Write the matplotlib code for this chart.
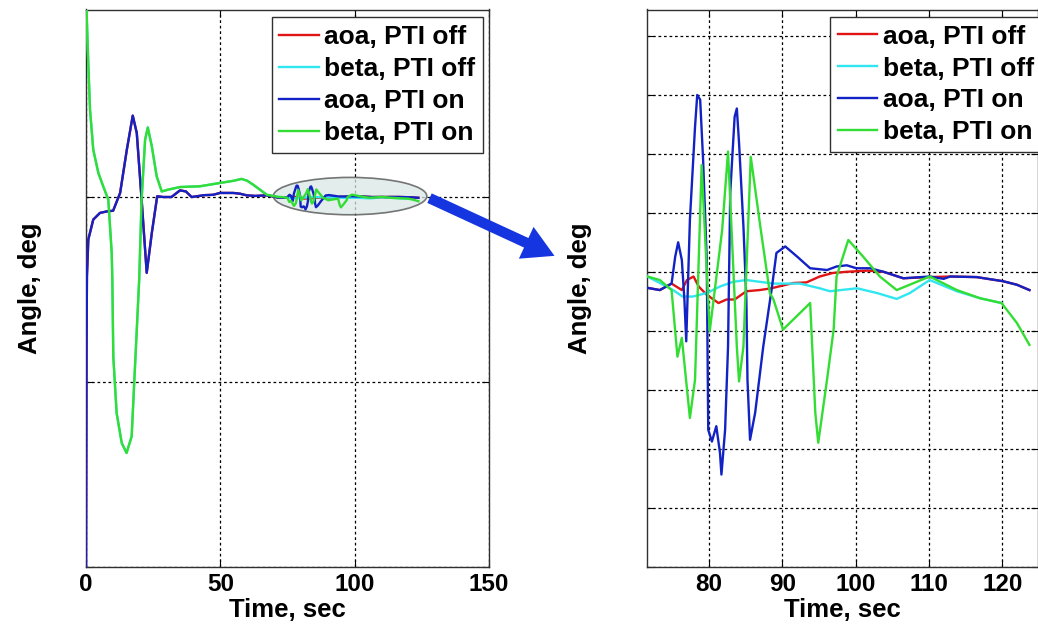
import matplotlib
matplotlib.use("Agg")
import matplotlib.pyplot as plt
from matplotlib.patches import Ellipse, FancyArrowPatch, ArrowStyle
import numpy as np

plt.rcParams['font.family'] = ['Liberation Sans', 'DejaVu Sans']
plt.rcParams['font.weight'] = 'bold'

# ---------------- data ----------------
# Before the PTI manoeuvre (t < 72 s) PTI off and PTI on traces coincide.
t_pre_aoa = [0.0, 0.2, 0.35, 0.86, 2.7, 5.2, 7.7, 10.1, 12.7, 15.2, 17.4, 18.9, 20.7, 22.6,
             24.5, 26.5, 28.7, 31.8, 35.0, 37.2, 39.3, 44.0, 47.3, 49.9, 54.8, 57.3, 59.8,
             63.0, 67.3, 70.0]
aoa_pre = [-100, -40, -21.5, -11.6, -6.2, -4.4, -4.0, -3.8, 1.0, 12.7, 21.9, 17.2, -0.8, -20.6,
           -9.8, 0.1, -0.1, -0.1, 1.7, 1.4, -0.1, 0.4, 0.5, 1.0, 1.0, 0.8, 0.35,
           0.2, 0.35, 0.0]

t_pre_beta = [0.0, 0.86, 1.5, 2.7, 4.6, 6.4, 8.3, 9.57, 9.8, 10.16, 11.4, 13.3, 15.1, 17.0,
              18.0, 18.9, 19.8, 20.7, 22.0, 23.0, 24.5, 26.3, 28.2, 30.6, 35.0, 42.4, 49.9,
              55.0, 57.9, 60.0, 62.3, 67.3, 70.3]
beta_pre = [55, 35.8, 23.5, 12.7, 6.4, 2.8, -0.8, -15.2, -22.4, -43.2, -58.5, -66.6, -69.3, -64.8,
            -49.5, -36.0, -22.4, -0.8, 15.4, 18.7, 13.6, 5.5, 1.4, 1.9, 2.6, 2.8, 3.7,
            4.3, 4.8, 4.3, 3.2, 0.5, 0.1]

# After 72 s
t_aoa_on = [71.5, 73.3, 74.9, 75.4, 75.8, 76.3, 76.65, 76.9, 77.4, 78.1, 78.4, 78.8, 79.2, 79.7,
            79.9, 80.4, 81.0, 81.5, 81.7, 82.2, 82.6, 82.9, 83.5, 83.8, 84.1, 84.7, 85.1, 85.25,
            85.6, 86.3, 87.4, 88.6, 89.2, 90.4, 92.0, 93.8, 96.1, 97.4, 98.8, 100.1, 102.0,
            103.8, 106.5, 110.1, 112.0, 112.9, 116.5, 120.1, 122.0, 123.7]
aoa_on = [-0.27, -0.31, -0.20, 0.26, 0.50, 0.20, -0.47, -1.18, 0.88, 2.46, 3.0, 2.92, 1.90, 0.20,
          -2.68, -2.88, -2.62, -3.07, -3.44, -2.68, -1.27, 1.34, 2.63, 2.77, 2.19, 0.77, -0.47, -1.83,
          -2.85, -2.39, -1.27, -0.25, 0.32, 0.43, 0.26, 0.06, 0.03, 0.09, 0.11, 0.06, 0.06,
          0.0, -0.11, -0.08, -0.12, -0.08, -0.09, -0.16, -0.22, -0.31]

t_beta_on = [71.6, 73.3, 74.9, 75.1, 75.7, 76.3, 77.4, 78.1, 79.0, 80.1, 81.8, 82.6, 83.8, 84.1,
             84.7, 85.7, 87.0, 88.3, 88.8, 90.1, 91.5, 93.8, 94.5, 94.9, 96.1, 97.0, 97.4, 99.0,
             101.0, 103.3, 105.6, 110.1, 113.8, 117.0, 119.9, 122.0, 123.7]
beta_on = [-0.08, -0.14, -0.31, -0.59, -1.44, -1.12, -2.48, -1.83, 1.81, -1.01, 0.71, 2.04, -1.27, -1.86,
           -1.27, 1.95, 0.77, -0.36, -0.47, -0.98, -0.81, -0.53, -2.39, -2.90, -1.83, -0.98, -0.08, 0.54,
           0.26, -0.08, -0.31, -0.08, -0.31, -0.45, -0.53, -0.87, -1.24]

t_aoa_off = [71.5, 73.3, 74.9, 76.3, 77.0, 77.9, 78.6, 79.7, 81.3, 82.4, 83.5, 85.1, 86.9, 88.5,
             91.5, 93.3, 95.1, 96.9, 98.8, 101.6, 103.8, 106.5, 110.1, 112.9, 116.5, 120.1, 122.0, 123.7]
aoa_off = [-0.27, -0.31, -0.20, -0.31, -0.14, -0.08, -0.25, -0.39, -0.53, -0.47, -0.47, -0.33, -0.31, -0.28,
           -0.19, -0.18, -0.08, -0.02, 0.0, 0.02, 0.0, -0.11, -0.09, -0.08, -0.09, -0.16, -0.22, -0.31]

t_beta_off = [71.6, 73.3, 75.1, 76.4, 77.8, 79.7, 81.5, 83.3, 85.1, 86.9, 88.8, 92.4, 95.1, 96.5,
              100.2, 102.9, 105.6, 107.4, 110.1, 113.8, 117.0, 119.9]
beta_off = [-0.08, -0.19, -0.31, -0.42, -0.42, -0.36, -0.25, -0.17, -0.14, -0.17, -0.20, -0.20, -0.28, -0.33,
            -0.28, -0.36, -0.46, -0.36, -0.14, -0.33, -0.45, -0.53]

labels = ['aoa, PTI off', 'beta, PTI off', 'aoa, PTI on', 'beta, PTI on']
colors = ['#e01414', '#30e6f0', '#1222c4', '#33dd33']

left_xticks = [0, 50, 100, 150]
right_xticks = [80, 90, 100, 110, 120]

series = [
    (t_pre_aoa + t_aoa_off, aoa_pre + aoa_off),
    (t_pre_beta + t_beta_off, beta_pre + beta_off),
    (t_pre_aoa + t_aoa_on, aoa_pre + aoa_on),
    (t_pre_beta + t_beta_on, beta_pre + beta_on),
]

# ---------------- figure ----------------
W, H = 1038, 629
fig = plt.figure(figsize=(W / 100, H / 100), dpi=100)
fig.patch.set_facecolor('white')

def px_axes(l, t, r, b):
    return [l / W, 1 - b / H, (r - l) / W, (b - t) / H]

axL = fig.add_axes(px_axes(86, 9.5, 489, 566.5))
axR = fig.add_axes(px_axes(647, 9.5, 1037.5, 566.5))

grid_kw = dict(color='black', linestyle=(0, (2.2, 2.2)), linewidth=0.9)

for ax in (axL, axR):
    for (tt, vv), c, lab in zip(series, colors, labels):
        ax.plot(tt, vv, color=c, lw=1.7, label=lab, zorder=3)
    ax.grid(True, **grid_kw)
    ax.set_axisbelow(True)
    ax.tick_params(direction='in', length=5, top=True, right=True, labelsize=17.5,
                   pad=5, width=0.8)
    for s in ax.spines.values():
        s.set_color('#303030')
        s.set_linewidth(1.0)
    ax.set_xlabel('Time, sec', fontsize=18.5, fontweight='bold', labelpad=1)
    ax.set_ylabel('Angle, deg', fontsize=18.5, fontweight='bold')

axL.set_xlim(0, 150)
axL.set_ylim(-100, 50.6)
axL.set_xticks(left_xticks)
axL.set_yticks([-100, -50, 0])
axL.set_yticklabels([])
axL.yaxis.set_label_coords(-0.109, 0.5)

axR.set_xlim(71.55, 124.8)
axR.set_ylim(-5.0, 4.45)
axR.set_xticks(right_xticks)
axR.set_yticks(np.arange(-5, 5, 1))
axR.set_yticklabels([])
axR.yaxis.set_label_coords(-0.141, 0.5)

for ax in (axL, axR):
    for tl in ax.get_xticklabels():
        tl.set_fontweight('bold')

# ellipse highlighting the PTI region on the left plot
ell = Ellipse((98.3, 0.15), 57.1, 10.1, facecolor='#d9e8e6', alpha=0.75,
              edgecolor='#4a4a4a', lw=1.2, zorder=2.5)
axL.add_patch(ell)

leg_kw = dict(fontsize=19, frameon=True, fancybox=False, edgecolor='#303030',
              framealpha=1, borderaxespad=0, handlelength=1.5, handletextpad=0.2,
              labelspacing=0.3, borderpad=0.3)
legL = axL.legend(loc='upper right', bbox_to_anchor=(0.986, 0.986), **leg_kw)
legR = axR.legend(loc='upper left', bbox_to_anchor=(0.468, 0.987), **leg_kw)
for lg in (legL, legR):
    lg.get_frame().set_linewidth(1.0)
    for t in lg.get_texts():
        t.set_fontweight('bold')
    lg.set_zorder(5)

# arrow from the ellipse to the zoomed plot
arrow = FancyArrowPatch((427 / W, 1 - 197 / H), (557 / W, 1 - 257 / H),
                        transform=fig.transFigure,
                        arrowstyle=ArrowStyle.Simple(head_length=0.8, head_width=0.9, tail_width=0.27),
                        mutation_scale=28, color='#1535e0', lw=0, zorder=10)
fig.patches.append(arrow)

fig.savefig('out.png', dpi=100)
